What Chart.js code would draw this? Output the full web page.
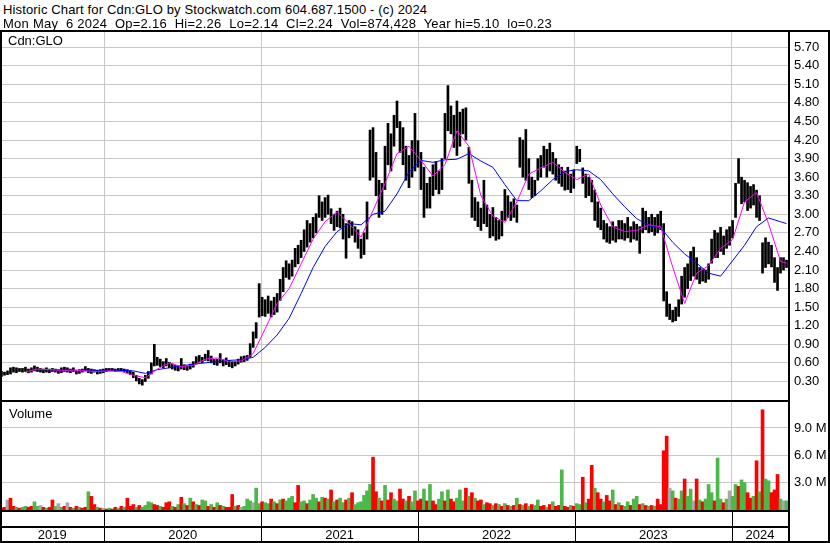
<!DOCTYPE html>
<html>
<head>
<meta charset="utf-8">
<script src="https://cdn.jsdelivr.net/npm/chart.js@4.4.1/dist/chart.umd.min.js"></script>
<style>
  html, body { margin: 0; padding: 0; background: #fff; }
  #wrap { position: relative; width: 830px; height: 543px; overflow: hidden; font-family: "Liberation Sans", Arial, sans-serif; color: #000; }
  .txt { position: absolute; font-size: 13px; line-height: 14px; white-space: pre; z-index: 3; }
  .rule { position: absolute; background: #000; z-index: 4; }
  canvas { position: absolute; left: 0; }
</style>
</head>
<body>
<div id="wrap">
  <div class="txt" style="left:3px; top:3px; letter-spacing:0.15px;">Historic Chart for Cdn:GLO by Stockwatch.com 604.687.1500 - (c) 2024</div>
  <div class="txt" style="left:3px; top:17px; letter-spacing:0.25px;">Mon May  6 2024  Op=2.16  Hi=2.26  Lo=2.14  Cl=2.24  Vol=874,428  Year hi=5.10  lo=0.23</div>
  <canvas id="priceChart" width="830" height="368" style="top:32px;"></canvas>
  <canvas id="volumeChart" width="830" height="143" style="top:400px;"></canvas>
  <div class="txt" style="left:8px; top:34px;">Cdn:GLO</div>
  <div class="txt" style="left:9px; top:407px;">Volume</div>
  <!-- frame -->
  <div class="rule" style="left:0; top:30px; width:830px; height:2px;"></div>
  <div class="rule" style="left:0; top:30px; width:2px; height:513px;"></div>
  <div class="rule" style="left:828px; top:30px; width:2px; height:513px;"></div>
  <div class="rule" style="left:0; top:541px; width:830px; height:2px;"></div>
  <div class="rule" style="left:788px; top:30px; width:2px; height:513px;"></div>
  <div class="rule" style="left:0; top:400px; width:790px; height:2px;"></div>
  <div class="rule" style="left:0; top:510px; width:790px; height:2px;"></div>
  <div class="rule" style="left:0; top:526px; width:790px; height:2px;"></div>
</div>
<script>
// weekly bars, May 2019 .. May 2024
const START = 2019.335;
const WEEK = 0.0191;

const lows = [
  0.38,0.40,0.41,0.42,0.45,0.44,0.46,0.45,0.46,0.44,
  0.45,0.47,0.46,0.45,0.44,0.45,0.44,0.46,0.45,0.43,
  0.44,0.46,0.45,0.44,0.46,0.42,0.43,0.45,0.47,0.44,
  0.43,0.45,0.42,0.43,0.44,0.46,0.47,0.47,0.46,0.47,
  0.47,0.46,0.44,0.41,0.36,0.31,0.26,0.24,0.30,0.35,
  0.42,0.55,0.56,0.54,0.52,0.55,0.52,0.50,0.48,0.47,
  0.50,0.49,0.48,0.50,0.53,0.58,0.62,0.60,0.64,0.63,
  0.60,0.57,0.56,0.60,0.55,0.57,0.54,0.52,0.55,0.58,
  0.61,0.62,0.64,0.69,0.85,1.00,1.34,1.36,1.35,1.40,
  1.34,1.38,1.42,1.61,1.75,1.98,1.95,2.00,2.15,2.20,
  2.30,2.40,2.47,2.55,2.62,2.70,2.95,2.90,2.95,3.00,
  2.85,2.74,2.80,2.78,2.60,2.29,2.62,2.66,2.55,2.45,
  2.29,2.35,2.60,3.55,3.60,3.30,2.95,3.00,3.40,3.80,
  3.70,4.10,4.40,4.00,3.80,3.55,3.43,3.60,3.70,3.76,
  3.40,2.95,3.10,3.10,3.30,3.40,3.33,3.40,3.90,4.35,
  4.30,4.08,3.95,4.10,4.30,4.20,3.50,2.95,2.90,2.80,
  2.74,2.85,2.80,2.62,2.65,2.58,2.60,2.65,2.90,2.95,
  2.90,2.95,2.87,3.76,3.60,3.55,3.40,3.27,3.30,3.55,
  3.60,3.76,3.60,3.70,3.65,3.55,3.50,3.45,3.39,3.40,
  3.35,3.42,3.82,3.85,3.50,3.27,3.30,3.20,2.90,2.79,
  2.75,2.60,2.55,2.53,2.58,2.55,2.60,2.60,2.58,2.62,
  2.55,2.60,2.58,2.37,2.70,2.75,2.70,2.72,2.66,2.70,
  2.75,1.60,1.35,1.30,1.26,1.28,1.35,1.55,1.66,1.80,
  1.93,2.00,1.95,1.88,1.92,1.90,1.95,2.21,2.30,2.30,
  2.40,2.35,2.45,2.50,2.62,2.95,3.50,3.17,3.20,3.06,
  3.10,3.15,2.95,2.90,2.05,2.14,2.20,2.15,1.90,1.77,
  2.05,2.10,2.14
];
const highs = [
  0.46,0.45,0.47,0.52,0.53,0.52,0.51,0.51,0.53,0.50,
  0.52,0.55,0.53,0.51,0.50,0.52,0.50,0.51,0.50,0.49,
  0.52,0.53,0.52,0.50,0.52,0.48,0.49,0.50,0.54,0.51,
  0.50,0.49,0.48,0.49,0.50,0.51,0.51,0.51,0.50,0.51,
  0.51,0.50,0.49,0.47,0.45,0.40,0.35,0.33,0.40,0.46,
  0.60,0.90,0.69,0.66,0.62,0.67,0.61,0.58,0.56,0.55,
  0.67,0.57,0.55,0.58,0.62,0.70,0.72,0.69,0.74,0.80,
  0.71,0.66,0.66,0.75,0.65,0.68,0.64,0.61,0.62,0.66,
  0.70,0.71,0.72,0.91,1.10,1.25,1.88,1.66,1.62,1.68,
  1.60,1.66,1.72,1.95,2.14,2.25,2.20,2.26,2.45,2.50,
  2.58,2.75,2.90,2.85,2.95,3.01,3.30,3.20,3.27,3.31,
  3.09,3.00,3.05,3.10,3.00,2.85,2.90,2.88,2.80,2.75,
  2.60,2.70,3.20,4.36,4.40,4.00,3.55,3.50,4.10,4.47,
  4.30,4.60,4.83,4.50,4.40,4.10,3.95,4.19,4.63,4.19,
  4.00,3.76,3.50,3.60,3.80,3.85,3.70,3.90,4.63,5.08,
  4.75,4.60,4.83,4.65,4.70,4.72,4.08,3.55,3.27,3.20,
  3.10,3.55,3.15,3.00,3.11,2.95,2.90,3.05,3.40,3.30,
  3.20,3.25,3.15,4.24,4.20,4.37,3.90,3.60,3.55,3.90,
  3.95,4.10,4.05,4.15,4.00,3.90,3.80,3.76,3.70,3.76,
  3.65,3.72,4.10,4.05,3.75,3.65,3.60,3.55,3.39,3.20,
  3.10,2.90,2.85,2.80,2.88,2.80,2.90,2.90,2.85,2.95,
  2.80,2.88,2.84,2.80,3.10,3.05,2.95,3.00,2.95,3.00,
  3.05,2.85,1.75,1.55,1.45,1.50,1.62,2.00,2.14,2.20,
  2.40,2.47,2.30,2.14,2.12,2.10,2.20,2.60,2.74,2.70,
  2.79,2.65,2.75,2.80,2.90,3.50,3.90,3.60,3.55,3.51,
  3.45,3.48,3.39,3.30,2.54,2.62,2.55,2.50,2.30,2.14,
  2.30,2.30,2.26
];

// moving averages, read every 4th week (last point = last week)
const MA_EVERY = 4;
const fastMa = [
  null,null,0.45,0.50,0.49,0.48,0.48,0.47,0.46,0.47,
  0.46,0.40,0.36,0.50,0.60,0.54,0.56,0.66,0.68,0.62,
  0.63,0.75,1.15,1.56,1.80,2.20,2.60,2.88,3.04,2.85,
  2.63,3.06,3.50,3.98,4.10,3.87,3.62,3.80,4.35,4.10,
  3.30,2.97,2.87,3.20,3.65,3.75,3.84,3.68,3.56,3.65,
  3.15,2.80,2.72,2.74,2.83,2.80,2.15,1.56,2.05,2.17,
  2.45,2.59,3.20,3.35,2.85,2.24,2.21
];
const slowMa = [
  null,null,null,0.49,0.49,0.48,0.48,0.48,0.48,0.48,
  0.48,0.47,0.43,0.49,0.52,0.55,0.58,0.60,0.62,0.64,
  0.65,0.69,0.85,1.05,1.32,1.72,2.14,2.48,2.72,2.85,
  2.83,3.00,3.05,3.33,3.68,3.87,3.84,3.88,3.89,3.98,
  3.86,3.76,3.48,3.22,3.22,3.38,3.56,3.69,3.72,3.70,
  3.56,3.33,3.12,2.93,2.82,2.78,2.55,2.36,2.21,2.05,
  2.00,2.25,2.50,2.80,2.94,2.88,2.85
];

// volume in millions, u = up day, d = down day, f = unchanged
const volumes = [
  0.2,0.3,1.1,1.3,0.4,0.3,0.2,0.3,0.4,0.3,
  0.4,0.9,0.4,0.5,0.3,0.2,0.3,1.1,0.4,0.7,
  0.3,0.4,0.8,0.3,0.2,0.4,0.3,0.2,0.3,2.0,
  1.5,0.6,0.3,0.2,0.2,0.1,0.2,0.1,0.3,0.2,
  0.4,0.3,1.3,0.4,0.6,0.3,0.5,0.3,0.5,0.9,
  0.8,0.6,0.5,0.4,0.3,0.8,0.9,0.4,0.3,0.6,
  1.4,0.7,0.5,1.3,0.9,0.6,0.5,1.1,1.0,0.4,
  0.6,0.3,0.8,0.5,0.4,0.3,0.3,1.7,0.4,0.5,
  0.3,0.4,1.2,1.0,0.8,2.4,0.7,0.9,0.8,0.7,
  1.2,0.9,0.7,1.1,1.2,1.0,1.3,1.5,0.8,2.7,
  0.9,1.0,0.7,1.1,1.7,1.3,0.9,1.4,1.3,1.2,
  2.2,0.9,1.1,1.3,0.8,1.1,1.3,1.9,0.6,0.8,
  0.9,1.6,2.1,2.8,5.8,2.0,1.3,1.0,2.7,1.1,
  1.9,1.2,1.0,2.3,1.2,1.0,1.5,0.9,2.1,1.0,
  1.2,2.3,1.0,2.8,1.0,0.6,1.2,2.0,1.0,2.2,
  1.2,0.9,1.3,2.2,1.0,2.4,1.5,1.9,1.3,1.0,
  1.1,0.6,0.8,0.7,0.5,0.7,0.6,0.4,0.7,0.5,
  0.4,0.5,1.3,0.6,0.5,0.7,0.4,0.6,0.5,1.1,
  0.4,0.5,0.3,0.6,0.9,0.4,0.5,4.4,0.4,0.3,
  0.5,0.4,0.7,0.6,3.6,0.8,1.2,4.9,2.4,1.9,
  1.2,0.9,1.6,1.0,2.2,0.6,0.8,0.5,0.4,0.9,
  0.5,1.2,1.5,0.6,0.7,0.5,0.4,0.5,0.4,1.2,
  0.6,6.5,8.1,2.4,2.1,1.3,1.2,2.1,3.4,1.5,
  2.3,1.0,3.4,1.1,0.9,1.2,2.8,1.9,1.0,5.7,
  1.2,0.8,1.2,2.1,1.5,2.8,2.6,3.3,3.0,1.9,
  1.3,1.5,5.4,2.0,11.0,3.4,3.2,1.9,2.2,3.9,
  1.2,1.0,1.0
];
const volumeDirection = (
  'ddfdduduud' + 'duufdudduf' + 'udfdududdu' + 'ddudfduddu' + 'duddduduuu' +
  'uddudddudu' + 'dudududuud' + 'udududddud' + 'fuuufuuduu' + 'dududuuudd' +
  'uuduuududu' + 'duduududuu' + 'uuuuddudud' + 'duudduduud' + 'dududduudu' +
  'dduuududud' + 'duddududud' + 'ududududuu' + 'ddududdudd' + 'uduududdud' +
  'duddududuu' + 'duudududud' + 'dddfuduudu' + 'ufduduuudu' + 'udufuuduud' +
  'dududuuddd' + 'ufu'
).split('');

const yearStarts = [2020, 2021, 2022, 2023, 2024];
const yearLabels = ['2019', '2020', '2021', '2022', '2023', '2024'];
const priceTicks = [0.3, 0.6, 0.9, 1.2, 1.5, 1.8, 2.1, 2.4, 2.7, 3.0, 3.3, 3.6, 3.9, 4.2, 4.5, 4.8, 5.1, 5.4, 5.7];
const volumeTicks = [3, 6, 9];

const END = START + lows.length * WEEK;
const PRICE_MAX = 5.945;
const VOLUME_MAX = 11.85;
const weekX = i => START + (i + 0.5) * WEEK;
const yearMids = yearLabels.map((_, i) => {
  const a = i === 0 ? START : yearStarts[i - 1];
  const b = i === yearStarts.length ? END : yearStarts[i];
  return (a + b) / 2;
});

const FONT = { family: '"Liberation Sans", Arial, sans-serif', size: 13 };
const GRID = '#c8c8c8';
const dirColor = { u: '#4cb848', d: '#ff0000', f: '#a8a8a8' };

function maPoints(values) {
  return values.map((v, k) => ({ x: weekX(Math.min(k * MA_EVERY, lows.length - 1)), y: v }));
}

// no label overflow padding around the plot
function tightFit(size) {
  return axis => {
    if (axis.isHorizontal()) axis.height = size; else axis.width = size;
    axis.paddingTop = 0; axis.paddingBottom = 0;
    axis.paddingLeft = 0; axis.paddingRight = 0;
  };
}

new Chart(document.getElementById('priceChart'), {
  type: 'bar',
  data: {
    datasets: [
      { type: 'line', data: maPoints(fastMa), borderColor: '#ff00ff', borderWidth: 1, pointRadius: 0, fill: false, order: 0 },
      { type: 'line', data: maPoints(slowMa), borderColor: '#0000ff', borderWidth: 1, pointRadius: 0, fill: false, order: 1 },
      {
        type: 'bar',
        data: lows.map((lo, i) => ({ x: weekX(i), y: [lo, highs[i]] })),
        backgroundColor: '#000',
        barThickness: 2,
        grouped: false,
        order: 2
      }
    ]
  },
  options: {
    responsive: false,
    animation: false,
    devicePixelRatio: 1,
    layout: { padding: 0 },
    plugins: { legend: { display: false }, tooltip: { enabled: false } },
    scales: {
      x: {
        type: 'linear', min: START, max: END, offset: false,
        border: { display: false },
        grid: { color: GRID, drawTicks: false, offset: false },
        ticks: { display: false },
        afterBuildTicks: axis => { axis.ticks = yearStarts.map(v => ({ value: v })); },
        afterFit: tightFit(0)
      },
      y: {
        position: 'right', min: 0, max: PRICE_MAX,
        border: { display: false },
        grid: { color: GRID, drawTicks: false },
        ticks: { padding: 6, autoSkip: false, color: '#000', font: FONT, callback: v => v.toFixed(2) },
        afterBuildTicks: axis => { axis.ticks = priceTicks.map(v => ({ value: v })); },
        afterFit: tightFit(42)
      }
    }
  }
});

// black year separators below the volume panel
const yearBand = {
  id: 'yearBand',
  afterDraw(chart) {
    const { ctx, chartArea, scales } = chart;
    ctx.save();
    ctx.fillStyle = '#000';
    yearStarts.forEach(v => {
      const px = Math.round(scales.x.getPixelForValue(v));
      ctx.fillRect(px, chartArea.bottom, 1, chart.height - chartArea.bottom);
    });
    ctx.restore();
  }
};

new Chart(document.getElementById('volumeChart'), {
  type: 'bar',
  data: {
    datasets: [{
      data: volumes.map((v, i) => ({ x: weekX(i), y: v })),
      backgroundColor: volumeDirection.map(d => dirColor[d]),
      barThickness: 3,
      grouped: false
    }]
  },
  options: {
    responsive: false,
    animation: false,
    devicePixelRatio: 1,
    layout: { padding: { top: 2 } },
    plugins: { legend: { display: false }, tooltip: { enabled: false } },
    scales: {
      x: {
        type: 'linear', min: START, max: END, offset: false,
        border: { display: false },
        grid: {
          color: c => (c.tick && yearStarts.includes(c.tick.value)) ? GRID : 'rgba(0,0,0,0)',
          drawTicks: false, offset: false
        },
        ticks: {
          padding: 18, autoSkip: false, maxRotation: 0, color: '#000', font: FONT,
          callback: v => { const i = yearMids.indexOf(v); return i >= 0 ? yearLabels[i] : ''; }
        },
        afterBuildTicks: axis => {
          axis.ticks = yearStarts.map(v => ({ value: v })).concat(yearMids.map(v => ({ value: v })));
        },
        afterFit: tightFit(33)
      },
      y: {
        position: 'right', min: 0, max: VOLUME_MAX,
        border: { display: false },
        grid: { color: GRID, drawTicks: false },
        ticks: { padding: 6, autoSkip: false, color: '#000', font: FONT, callback: v => v.toFixed(1) + ' M' },
        afterBuildTicks: axis => { axis.ticks = volumeTicks.map(v => ({ value: v })); },
        afterFit: tightFit(42)
      }
    }
  },
  plugins: [yearBand]
});
</script>
</body>
</html>
